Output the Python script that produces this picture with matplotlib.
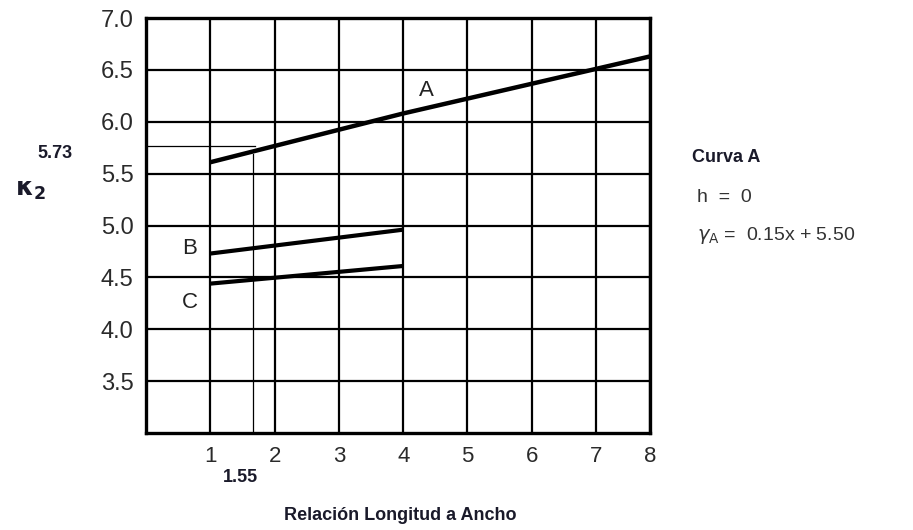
import matplotlib.pyplot as plt

plt.rcParams['font.family'] = ['Liberation Sans', 'DejaVu Sans']

# curves (the last column of the printed grid is narrower,
# so "8" sits at 7.84 on the drawn scale)
x_end = 7.84
x_a = [1, 4, x_end]
y_a = [5.61, 6.08, 6.63]
x_b = [1, 4]
y_b = [4.73, 4.96]
x_c = [1, 4]
y_c = [4.44, 4.61]

x_ticks = [1, 2, 3, 4, 5, 6, 7, x_end]
x_labels = ['1', '2', '3', '4', '5', '6', '7', '8']
y_ticks = [3.5, 4.0, 4.5, 5.0, 5.5, 6.0, 6.5, 7.0]

# reading line for the worked example
read_x = 1.67
read_y = 5.77

fig = plt.figure(figsize=(9.13, 5.30), dpi=100)
ax = fig.add_axes([0.160, 0.183, 0.552, 0.783])

ax.set_xlim(0, x_end)
ax.set_ylim(3.0, 7.0)
ax.set_xticks(x_ticks)
ax.set_yticks(y_ticks)
ax.set_xticklabels(x_labels, fontsize=16, color='#2a2a2a')
ax.set_yticklabels([f'{v:.1f}' for v in y_ticks], fontsize=17, color='#2a2a2a')
ax.tick_params(length=0, pad=9)
ax.grid(True, color='black', linewidth=1.6)
for s in ax.spines.values():
    s.set_linewidth(2.4)

ax.plot(x_a, y_a, color='black', linewidth=3.2, solid_capstyle='butt')
ax.plot(x_b, y_b, color='black', linewidth=3.0, solid_capstyle='butt')
ax.plot(x_c, y_c, color='black', linewidth=3.0, solid_capstyle='butt')

ax.plot([0, 1.70], [read_y, read_y], color='black', linewidth=0.9)
ax.plot([read_x, read_x], [3.0, 5.69], color='black', linewidth=0.9)

ax.text(4.36, 6.30, 'A', fontsize=16, ha='center', va='center', color='#222222')
ax.text(0.68, 4.78, 'B', fontsize=16, ha='center', va='center', color='#222222')
ax.text(0.68, 4.26, 'C', fontsize=16, ha='center', va='center', color='#222222')

fig.text(55 / 913, 1 - 153 / 530, '5.73', fontsize=13, fontweight='bold',
         ha='center', va='center', color='#1a1a2a')
fig.text(240 / 913, 1 - 478 / 530, '1.55', fontsize=13, fontweight='bold',
         ha='center', va='center', color='#1a1a2a')
fig.text(30 / 913, 1 - 190 / 530, r'$\mathbf{\kappa}_{\mathbf{2}}$', fontsize=18,
         ha='center', va='center', color='#1a1a2a')
fig.text(400 / 913, 1 - 516 / 530, 'Relación Longitud a Ancho', fontsize=13,
         fontweight='bold', ha='center', va='center', color='#1a1a2a')

fig.text(692 / 913, 1 - 158 / 530, 'Curva A', fontsize=13, fontweight='bold',
         ha='left', va='center', color='#1a1a2a')
fig.text(697 / 913, 1 - 197 / 530, 'h  =  0', fontsize=14,
         ha='left', va='center', color='#333333')
fig.text(697 / 913, 1 - 236 / 530, r'$\gamma_{\rm A}$ =  0.15x + 5.50', fontsize=14,
         ha='left', va='center', color='#333333')

fig.savefig('out.png', dpi=100)
